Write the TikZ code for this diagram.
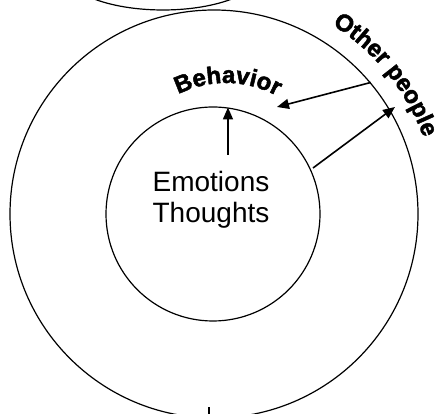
\documentclass[tikz,border=0pt]{standalone}
\usepackage{fontspec}
\setmainfont{Liberation Sans}
\newfontfamily\heavyfont[FakeBold=2]{Liberation Sans Bold}
\usetikzlibrary{arrows.meta,shapes.geometric,decorations.text}
\tikzset{
  ring/.style={circle, draw, line width=1.2pt, inner sep=0pt},
  arr/.style={line width=1.6pt, -{Triangle[length=12pt,width=10pt]}},
  curvedlabel/.style={decorate, decoration={text along path, text align=center, text={#1}}}
}
\begin{document}
\begin{tikzpicture}[x=1pt,y=1pt]
\useasboundingbox (0,0) rectangle (442,414);
% top partial ellipse
\node[ellipse, draw, line width=1.2pt, minimum width=200pt, minimum height=80pt, inner sep=0pt] (top) at (163,444) {};
% circles
\node[ring, minimum size=408pt] (outer) at (214,200) {};
\node[ring, minimum size=214pt] (inner) at (213,200) {};
% center text
\node[anchor=base, align=center, font=\fontsize{28}{31}\selectfont] (txt) at (211,191) {Emotions\\Thoughts};
% arrows
\coordinate (vtail) at (228,259);
\draw[arr] (vtail) -- (inner.82);
\coordinate (btip) at (277,307);
\draw[arr] (outer.40.4) -- (btip);
\coordinate (otail) at (313,246);
\coordinate (otip) at (395,307);
\draw[arr] (otail) -- (otip);
% bottom tick
\coordinate (tickb) at (209,0);
\coordinate (tickt) at (209,7);
\draw[line width=1.2pt] (tickb) -- (tickt);
% curved labels
\path[curvedlabel={|\heavyfont\fontsize{24}{24}\selectfont|Behavior}]
  (226,224) ++(120:107pt) arc[start angle=120, end angle=58, radius=107pt];
\path[curvedlabel={|\heavyfont\fontsize{24}{24}\selectfont|Other people}]
  (214,200) ++(62:223pt) arc[start angle=62, end angle=16, radius=223pt];
\end{tikzpicture}
\end{document}
